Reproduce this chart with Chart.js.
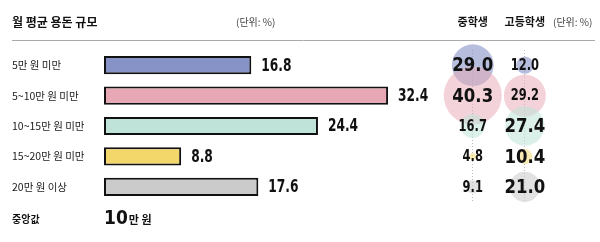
<!DOCTYPE html>
<html>
<head>
<meta charset="utf-8">
<script src="https://cdn.jsdelivr.net/npm/chart.js@4"></script>
<style>
  html, body { margin: 0; padding: 0; background: #fff; }
  #wrap { width: 600px; height: 242px; }
</style>
</head>
<body>
<div id="wrap"><canvas id="myChart" width="600" height="242"></canvas></div>
<script>
// 데이터
const categories = ['5만 원 미만', '5~10만 원 미만', '10~15만 원 미만', '15~20만 원 미만', '20만 원 이상'];
const overall = [16.8, 32.4, 24.4, 8.8, 17.6];
const middleSchool = [29.0, 40.3, 16.7, 4.8, 9.1];
const highSchool = [12.0, 29.2, 27.4, 10.4, 21.0];
const groups = ['중학생', '고등학생'];
const medianValue = '10';

const barColors = ['#8793c6', '#e8a7b4', '#bfe3d9', '#f3d76a', '#cbcbcb'];
const bubbleColors = ['rgba(135,147,198,0.6)', 'rgba(232,167,180,0.5)', 'rgba(191,227,217,0.55)',
                      'rgba(243,215,106,0.5)', 'rgba(203,203,203,0.55)'];

const numFont = '"DejaVu Sans Condensed", "DejaVu Sans", sans-serif';
const krFont = '"Noto Sans CJK KR", "Noto Sans", sans-serif';

function bubblePoints(values, col) {
    return values.map((v, i) => ({ x: col, y: categories[i], r: v * 0.72 }));
}

// 좁은 숫자 글꼴 흉내 (가로로 눌러서 그림)
function narrowText(c, txt, x, y, sx, align) {
    c.save();
    c.translate(x, y);
    c.scale(sx, 1);
    c.textAlign = align;
    c.fillText(txt, 0, 0);
    c.restore();
}

// 머리글, 값 라벨 그리기
const textPlugin = {
    id: 'texts',
    afterDatasetsDraw(chart) {
        const c = chart.ctx;
        const x2 = chart.scales.x2;
        c.save();
        c.fillStyle = '#111';
        c.textBaseline = 'middle';

        // 막대 값
        c.font = 'bold 17px ' + numFont;
        chart.getDatasetMeta(0).data.forEach((bar, i) => {
            narrowText(c, overall[i].toFixed(1), bar.x + 10, bar.y + 1, 0.8, 'left');
        });

        // 버블 값
        [middleSchool, highSchool].forEach((vals, d) => {
            const other = d === 0 ? highSchool : middleSchool;
            chart.getDatasetMeta(d + 1).data.forEach((pt, i) => {
                const big = vals[i] > other[i];
                c.font = 'bold ' + (big ? 20 : 15) + 'px ' + numFont;
                narrowText(c, vals[i].toFixed(1), pt.x, pt.y + 1, big ? 0.92 : 0.85, 'center');
            });
        });

        // 제목
        c.textAlign = 'left';
        c.font = 'bold 12px ' + krFont;
        c.fillText('월 평균 용돈 규모', 12, 22);
        c.font = '10px ' + krFont;
        c.fillStyle = '#444';
        c.fillText('(단위: %)', 236, 22);

        c.fillStyle = '#111';
        c.textAlign = 'center';
        c.font = 'bold 11px ' + krFont;
        groups.forEach((g, i) => c.fillText(g, x2.getPixelForValue(i), 22));
        c.textAlign = 'left';
        c.font = '10px ' + krFont;
        c.fillStyle = '#444';
        c.fillText('(단위: %)', 553, 22);

        // 구분선
        c.strokeStyle = '#aaa';
        c.lineWidth = 1;
        c.beginPath();
        c.moveTo(12, 40.5);
        c.lineTo(595, 40.5);
        c.stroke();

        // 중앙값
        c.fillStyle = '#111';
        c.font = 'bold 10px ' + krFont;
        c.fillText('중앙값', 12, 219);
        c.font = 'bold 19px ' + numFont;
        c.fillText(medianValue, chart.chartArea.left, 219);
        const w = c.measureText(medianValue).width;
        c.font = 'bold 11px ' + krFont;
        c.fillText('만 원', chart.chartArea.left + w + 1, 220);
        c.restore();
    }
};

const ctx = document.getElementById('myChart').getContext('2d');
const myChart = new Chart(ctx, {
    data: {
        labels: categories,
        datasets: [{
            type: 'bar',
            indexAxis: 'y',
            grouped: false,
            data: overall,
            backgroundColor: barColors,
            borderColor: '#111',
            borderWidth: 2,
            borderSkipped: false,
            categoryPercentage: 1,
            barPercentage: 0.6,
            xAxisID: 'x',
            yAxisID: 'y'
        }, {
            type: 'bubble',
            data: bubblePoints(middleSchool, 0),
            backgroundColor: bubbleColors,
            borderWidth: 0,
            clip: false,
            xAxisID: 'x2',
            yAxisID: 'y'
        }, {
            type: 'bubble',
            data: bubblePoints(highSchool, 1),
            backgroundColor: bubbleColors,
            borderWidth: 0,
            clip: false,
            xAxisID: 'x2',
            yAxisID: 'y'
        }]
    },
    options: {
        responsive: false,
        animation: false,
        layout: { autoPadding: false, padding: { left: 12, right: 5, top: 50, bottom: 40 } },
        plugins: { legend: { display: false }, tooltip: { enabled: false } },
        scales: {
            y: {
                type: 'category',
                axis: 'y',
                position: 'left',
                grid: { display: false },
                border: { display: false },
                ticks: { crossAlign: 'far', color: '#1a1a1a', font: { family: krFont, size: 10.5 } },
                afterFit: (axis) => { axis.width = 92; }
            },
            x: {
                type: 'linear',
                axis: 'x',
                min: 0,
                max: 56,
                display: false
            },
            x2: {
                type: 'linear',
                axis: 'x',
                position: 'bottom',
                min: -7.077,
                max: 2.346,
                afterBuildTicks: (axis) => { axis.ticks = [{ value: 0 }, { value: 1 }]; },
                grid: { color: '#bbb', tickLength: 0, drawTicks: false },
                border: { display: false, dash: [1, 2] },
                ticks: { display: false }
            }
        }
    },
    plugins: [textPlugin]
});
</script>
</body>
</html>
